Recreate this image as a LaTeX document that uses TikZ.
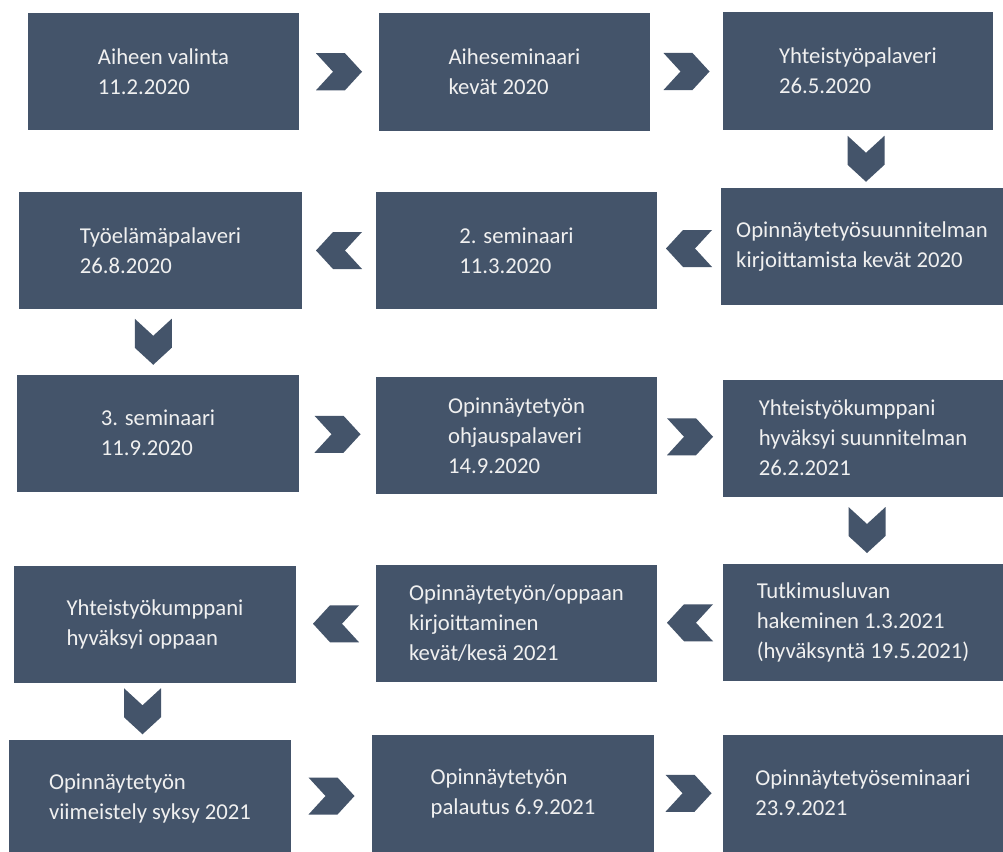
\documentclass[tikz,border=0pt]{standalone}
\usepackage{fontspec}
\setmainfont{Carlito}
\usetikzlibrary{calc}
\definecolor{stageblue}{HTML}{44546A}
\definecolor{stagetext}{HTML}{F0F0F0}
\tikzset{
  stage/.style={rectangle, fill=stageblue, text=stagetext, align=left, inner sep=0pt,
    minimum width=281, minimum height=117, font=\fontsize{22.7}{30}\selectfont},
  chev/.pic={\fill[stageblue] (-23,18.5) -- (6,18.5) -- (23,0) -- (6,-18.5) -- (-23,-18.5) -- (-6,0) -- cycle;}
}
\begin{document}
\begin{tikzpicture}[x=1pt, y=-1pt]
\clip (0,0) rectangle (1003,851);
\fill[white] (0,0) rectangle (1003,851);
\node (b1) [stage, minimum width=271] at (163.5,71.5) {Aiheen valinta\\11.2.2020};
\node (b2) [stage, minimum width=271] at (514.5,72) {Aiheseminaari\\kevät 2020};
\node (b3) [stage, minimum width=270] at (858,71) {Yhteistyöpalaveri\\26.5.2020};
\node (b4) [stage, minimum width=283] at (160.5,250.5) {Työelämäpalaveri\\26.8.2020};
\node (b5) [stage] at (516.5,250.5) {2. seminaari\\11.3.2020};
\node (b6) [stage, minimum width=282] at (862,246.5) {Opinnäytetyösuunnitelman\\kirjoittamista kevät 2020};
\node (b7) [stage, minimum width=282] at (158,433) {3. seminaari\\11.9.2020};
\node (b8) [stage] at (516.5,435.5) {Opinnäytetyön\\ohjauspalaveri\\14.9.2020};
\node (b9) [stage, minimum width=280] at (863,438) {Yhteistyökumppani\\hyväksyi suunnitelman\\26.2.2021};
\node (b10) [stage, minimum width=282] at (155,624) {Yhteistyökumppani\\hyväksyi oppaan};
\node (b11) [stage] at (516.5,623.5) {Opinnäytetyön/oppaan\\kirjoittaminen\\kevät/kesä 2021};
\node (b12) [stage, minimum width=280] at (863,622) {Tutkimusluvan\\hakeminen 1.3.2021\\(hyväksyntä 19.5.2021)};
\node (b13) [stage, minimum width=282] at (150,798.5) {Opinnäytetyön\\viimeistely syksy 2021};
\node (b14) [stage, minimum width=282] at (513,793.5) {Opinnäytetyön\\palautus 6.9.2021};
\node (b15) [stage, minimum width=280] at (863,793) {Opinnäytetyöseminaari\\23.9.2021};

\pic at ($(b1.east)!.5!(b2.west)$) {chev};
\pic at ($(b2.east)!.5!(b3.west)$) {chev};
\pic[xshift=6pt, rotate=-90] at ($(b3.south)!.5!(b6.north)$) {chev};
\pic[rotate=180] at ($(b6.west)!.5!(b5.east)$) {chev};
\pic[rotate=180] at ($(b5.west)!.5!(b4.east)$) {chev};
\pic[xshift=-6pt, rotate=-90] at ($(b4.south)!.5!(b7.north)$) {chev};
\pic at ($(b7.east)!.5!(b8.west)$) {chev};
\pic at ($(b8.east)!.5!(b9.west)$) {chev};
\pic[xshift=4pt, rotate=-90] at ($(b9.south)!.5!(b12.north)$) {chev};
\pic[rotate=180] at ($(b12.west)!.5!(b11.east)$) {chev};
\pic[rotate=180] at ($(b11.west)!.5!(b10.east)$) {chev};
\pic[xshift=-10pt, rotate=-90] at ($(b10.south)!.5!(b13.north)$) {chev};
\pic at ($(b13.east)!.5!(b14.west)$) {chev};
\pic at ($(b14.east)!.5!(b15.west)$) {chev};
\end{tikzpicture}
\end{document}
